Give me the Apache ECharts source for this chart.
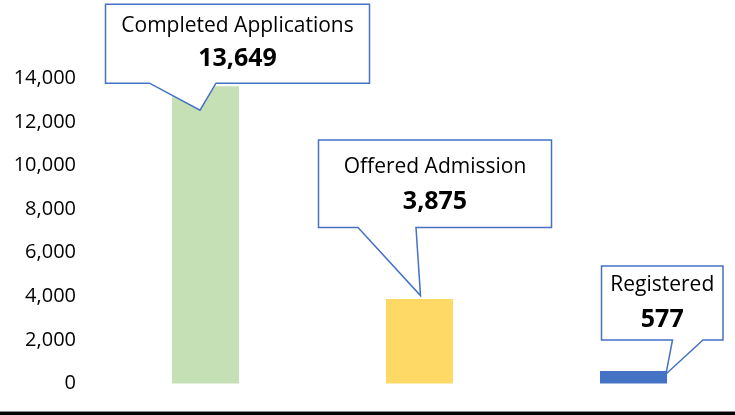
<!DOCTYPE html>
<html>
<head>
<meta charset="utf-8">
<script src="https://cdn.jsdelivr.net/npm/echarts@6/dist/echarts.min.js"></script>
<style>
  html, body { margin: 0; padding: 0; background: #fff; }
  #chart { width: 735px; height: 415px; }
</style>
</head>
<body>
<div id="chart"></div>
<script>
var categories = ['Completed Applications', 'Offered Admission', 'Registered'];
var values = [13649, 3875, 577];
var barColors = ['#C5E0B4', '#FFD966', '#4472C4'];

// callout geometry, relative to the top-centre of each bar
var callouts = [
  { l: -100, r: 164, t: -82, b: -3, baseL: -56, baseR: 10.5, tip: [-5.5, 24], dy1: 21.5, dy2: 55 },
  { l: -101, r: 132, t: -159, b: -71.5, baseL: -61.5, baseR: -3.5, tip: [1, -3.5], dy1: 26.5, dy2: 61.5 },
  { l: -32, r: 89.5, t: -105, b: -31, baseL: 39, baseR: 69.5, tip: [32.5, 3], dy1: 19, dy2: 54 }
];

var chart = echarts.init(document.getElementById('chart'));
var font = '"Open Sans", "Liberation Sans", sans-serif';

function fmt(v) { return v.toLocaleString('en-US'); }

// categories sit on the ticks (boundaryGap false): first bar centre at grid left, last at grid right
var option = {
  animation: false,
  grid: { left: 205.5, right: 101.5, top: 78.5, bottom: 31.5 },
  xAxis: {
    type: 'category',
    boundaryGap: false,
    data: categories,
    axisLine: { show: false },
    axisTick: { show: false },
    axisLabel: { show: false }
  },
  yAxis: {
    type: 'value',
    min: 0,
    max: 14000,
    interval: 2000,
    splitLine: { show: false },
    axisLine: { show: false },
    axisTick: { show: false },
    axisLabel: {
      margin: 129.5,
      padding: [4, 0, 0, 0],
      color: '#000',
      fontSize: 20,
      fontFamily: font,
      formatter: function (v) { return fmt(v); }
    }
  },
  series: [
    {
      type: 'bar',
      barWidth: 67,
      clip: false,
      data: values.map(function (v, i) {
        return { value: v, itemStyle: { color: barColors[i] } };
      })
    },
    {
      type: 'custom',
      clip: false,
      z: 10,
      data: values.map(function (v, i) { return [i, v]; }),
      encode: { x: 0, y: 1 },
      renderItem: function (params, api) {
        var i = params.dataIndex;
        var p = api.coord([api.value(0), api.value(1)]);
        var c = callouts[i];
        var x = p[0], y = p[1];
        var pts = [
          [x + c.l, y + c.t],
          [x + c.r, y + c.t],
          [x + c.r, y + c.b],
          [x + c.baseR, y + c.b],
          [x + c.tip[0], y + c.tip[1]],
          [x + c.baseL, y + c.b],
          [x + c.l, y + c.b]
        ];
        var cx = x + (c.l + c.r) / 2;
        return {
          type: 'group',
          children: [
            {
              type: 'polygon',
              shape: { points: pts },
              style: { fill: '#fff', stroke: '#4472C4', lineWidth: 1.5 }
            },
            {
              type: 'text',
              style: {
                text: categories[i], x: cx, y: y + c.t + c.dy1,
                align: 'center', verticalAlign: 'middle',
                fontSize: 21, fontFamily: font, fill: '#000'
              }
            },
            {
              type: 'text',
              style: {
                text: fmt(values[i]), x: cx, y: y + c.t + c.dy2,
                align: 'center', verticalAlign: 'middle',
                fontSize: 25, fontWeight: 'bold', fontFamily: font, fill: '#000'
              }
            }
          ]
        };
      }
    }
  ],
  graphic: [
    { type: 'rect', shape: { x: 0, y: 411, width: 735, height: 1 }, style: { fill: '#888' } },
    { type: 'rect', shape: { x: 0, y: 412, width: 735, height: 3 }, style: { fill: '#000' } }
  ]
};

chart.setOption(option);
window.addEventListener('resize', function () { chart.resize(); });
</script>
</body>
</html>
